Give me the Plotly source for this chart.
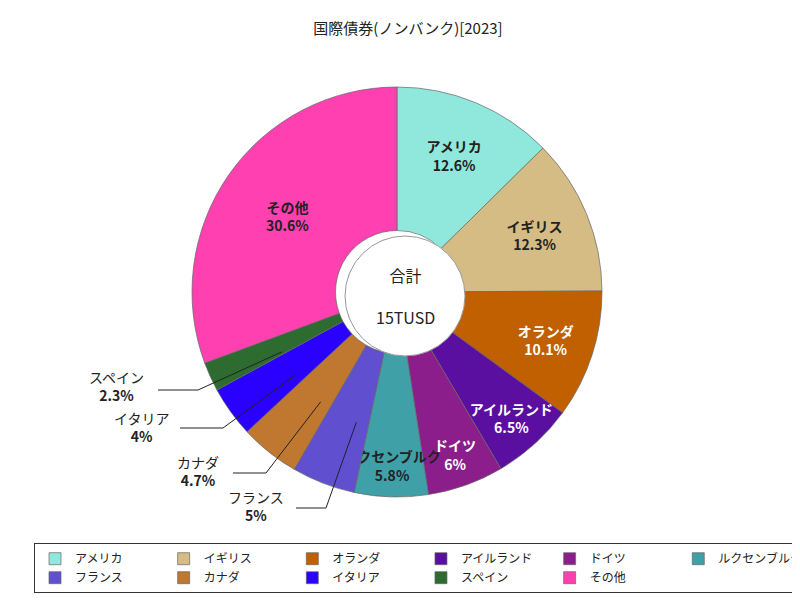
import plotly.graph_objects as go
import math

labels = ["アメリカ","イギリス","オランダ","アイルランド","ドイツ","ルクセンブルク","フランス","カナダ","イタリア","スペイン","その他"]
values = [12.6,12.3,10.1,6.5,6.0,5.8,5.0,4.7,4.0,2.3,30.6]
colors = ["#90E8DC","#D4BC84","#C06000","#5A0FA0","#8B1E8B","#40A0A8","#6050D0","#C07830","#2A00FF","#2E6B30","#FF40B0"]
textcolors = ["#222","#222","white","white","white","#222","white","white","white","white","#222"]
outside = ["フランス","カナダ","イタリア","スペイン"]
# label text positions (pixels) and leader-line start/bend
label_pos = {"スペイン":(108,378,150,382,190),"イタリア":(133,419,172,420,215),
             "カナダ":(190,463,225,465,258),"フランス":(248,498,288,500,318)}

W,H = 800,600
cx,cy,R = 397,288,205
texts = [("" if l in outside else f"<b>{l}<br>{v:g}%</b>") for l,v in zip(labels,values)]

fig = go.Figure(go.Pie(labels=labels, values=values, hole=0.3, sort=False, direction="clockwise",
    rotation=0, marker=dict(colors=colors, line=dict(color="#666", width=0.7)),
    text=texts, textinfo="text", textposition="inside", insidetextorientation="horizontal",
    textfont=dict(size=14, color=textcolors), hoverinfo="label+percent",
    domain=dict(x=[(cx-8-R)/W,(cx-8+R)/W], y=[1-(cy-4+R)/H,1-(cy-4-R)/H])))

total = sum(values)
cum = 0
shapes, anns = [], []
for l,v in zip(labels,values):
    mid = 90 - 360*(cum+v/2)/total
    cum += v
    if l in outside:
        px = cx + 0.66*R*math.cos(math.radians(mid))
        py = cy - 0.66*R*math.sin(math.radians(mid))
        tx,ty,x0,ly,x1 = label_pos[l]
        shapes.append(dict(type="path", xref="paper", yref="paper",
            path=f"M {x0/W} {1-ly/H} L {x1/W} {1-ly/H} L {px/W} {1-py/H}",
            line=dict(color="#222", width=1)))
        anns.append(dict(x=tx/W, y=1-ty/H, xref="paper", yref="paper", showarrow=False,
            xanchor="center", yanchor="middle",
            text=f"{l}<br><b>{v:g}%</b>", font=dict(size=14, color="#222"), align="center"))

shapes.append(dict(type="circle", xref="paper", yref="paper",
    x0=(cx-60)/W, x1=(cx+60)/W, y0=1-(cy+60)/H, y1=1-(cy-60)/H,
    fillcolor="white", line=dict(color="#999", width=1)))
anns.append(dict(x=cx/W, y=1-cy/H, xref="paper", yref="paper", showarrow=False,
    xanchor="center", yanchor="middle",
    text="合計<br><br>15TUSD", font=dict(size=16, color="#222")))

fig.update_layout(width=W, height=H, margin=dict(l=0,r=0,t=0,b=0),
    paper_bgcolor="white", font=dict(family="Noto Sans CJK JP", color="#222"),
    uniformtext=dict(minsize=14, mode="show"),
    title=dict(text="国際債券(ノンバンク)[2023]", x=0.5, y=0.975, xanchor="center", font=dict(size=15)),
    shapes=shapes, annotations=anns,
    legend=dict(orientation="h", x=0.08, y=0.108, xanchor="left", yanchor="top",
        bordercolor="#333", borderwidth=1, font=dict(size=12), traceorder="normal",
        itemwidth=30, tracegroupgap=0))
fig.write_html("out.html")
